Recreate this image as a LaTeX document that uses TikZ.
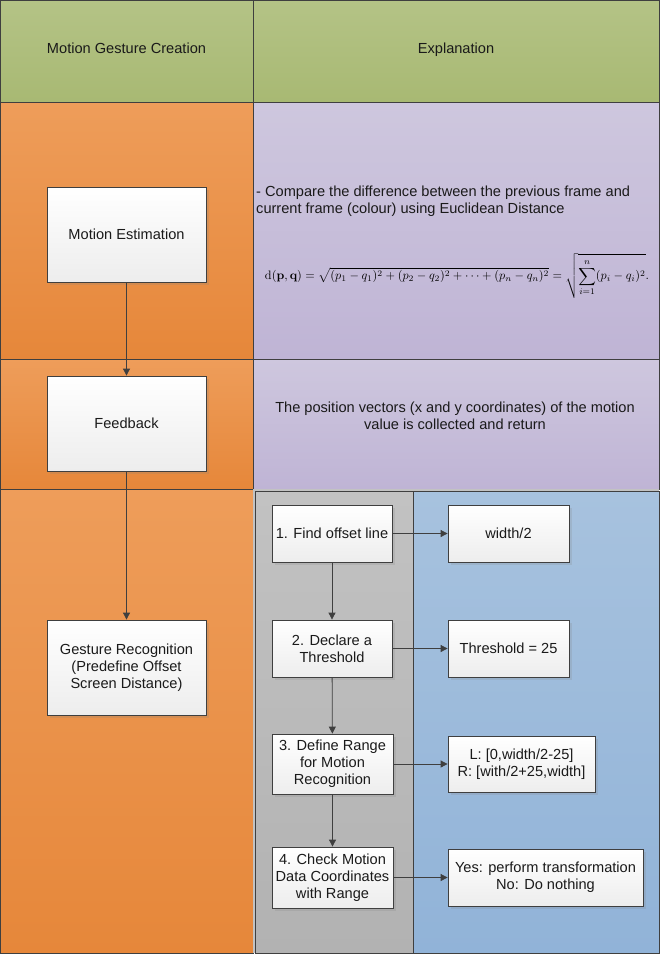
\documentclass[tikz,border=0pt]{standalone}
\usepackage[no-math]{fontspec}
\usepackage{graphicx}
\setmainfont{Liberation Sans}
\usetikzlibrary{arrows.meta,shadows}
\definecolor{lineC}{HTML}{3F3F3F}
\definecolor{gTop}{HTML}{B4C386}
\definecolor{gBot}{HTML}{A8B973}
\definecolor{oTop}{HTML}{EE9D5A}
\definecolor{oBot}{HTML}{E6873A}
\definecolor{pTop}{HTML}{CEC7DE}
\definecolor{pBot}{HTML}{BFB4D5}
\definecolor{grTop}{HTML}{C2C2C2}
\definecolor{grBot}{HTML}{B2B2B2}
\definecolor{bTop}{HTML}{A7C2DE}
\definecolor{bBot}{HTML}{91B3D8}
\definecolor{boxBot}{HTML}{EDEDED}
\definecolor{txt}{HTML}{1A1A1A}
\tikzset{
  cell/.style={draw=lineC, line width=0.8pt},
  proc/.style={draw=lineC, line width=0.8pt, top color=white, bottom color=boxBot,
    align=center, text=txt, font=\fontsize{14.6}{17}\selectfont, inner sep=2pt,
    drop shadow={opacity=0.2, shadow xshift=2.5pt, shadow yshift=-2.5pt}},
  conn/.style={draw=lineC, line width=0.8pt, -{Triangle[width=7pt,length=7pt]}},
  lbl/.style={text=txt, font=\fontsize{14.6}{17}\selectfont, inner sep=0pt}
}
\begin{document}
\begin{tikzpicture}[x=1pt,y=-1pt]
\useasboundingbox (0,0) rectangle (661,956);
% header
\draw[cell, top color=gTop, bottom color=gBot] (0.5,0.5) rectangle (253,102);
\draw[cell, top color=gTop, bottom color=gBot] (253,0.5) rectangle (659,102);
% left column
\draw[cell, top color=oTop, bottom color=oBot] (0.5,102) rectangle (253,359);
\draw[cell, top color=oTop, bottom color=oBot] (0.5,359) rectangle (253,489);
\draw[cell, top color=oTop, bottom color=oBot] (0.5,489) rectangle (253,953);
% right column
\draw[cell, top color=pTop, bottom color=pBot] (253,102) rectangle (659,359);
\draw[cell, top color=pTop, bottom color=pBot] (253,359) rectangle (659,489);
\fill[grTop] (253,489) rectangle (659,953);
\draw[cell, top color=grTop, bottom color=grBot] (255,491) rectangle (413,953);
\draw[cell, top color=bTop, bottom color=bBot] (413,491) rectangle (659,953);
% texts
\node[lbl, text height=10.5pt, text depth=3pt] (h1) at (126.5,50) {Motion Gesture Creation};
\node[lbl, text height=10.5pt, text depth=3pt] (h2) at (456,50) {Explanation};
\node[lbl, anchor=north west, align=left] (t1) at (256,186)
  {- Compare the difference between the previous frame and\\current frame (colour) using Euclidean Distance};
\node[inner sep=0pt] (eq) at (457,276) {\resizebox{384pt}{!}{$\displaystyle\mathrm{d}(\mathbf{p},\mathbf{q}) = \sqrt{(p_1-q_1)^2 + (p_2-q_2)^2+\cdots+(p_n-q_n)^2} = \sqrt{\sum_{i=1}^n (p_i-q_i)^2}.$}};
\node[lbl, align=center] (t2) at (455,415.5)
  {The position vectors (x and y coordinates) of the motion\\value is collected and return};
% boxes
\node[proc, minimum width=159pt, minimum height=95pt] (me) at (126.5,234.5) {Motion Estimation};
\node[proc, minimum width=159pt, minimum height=95pt] (fb) at (126.5,423.5) {Feedback};
\node[proc, minimum width=159pt, minimum height=95pt] (gr) at (126.5,667.5) {Gesture Recognition\\(Predefine Offset\\Screen Distance)};
\node[proc, minimum width=120pt, minimum height=57pt] (s1) at (332,533.5) {1. Find offset line};
\node[proc, minimum width=121pt, minimum height=57pt] (w2) at (508.5,533.5) {width/2};
\node[proc, minimum width=120pt, minimum height=57pt] (s2) at (332,648.5) {2. Declare a\\Threshold};
\node[proc, minimum width=121pt, minimum height=57pt] (th) at (508.5,648.5) {Threshold = 25};
\node[proc, minimum width=121pt, minimum height=60pt] (s3) at (332.5,764) {3. Define Range\\for Motion\\Recognition};
\node[proc, minimum width=147pt, minimum height=56pt] (rg) at (521.5,764) {L: [0,width/2-25]\\R: [with/2+25,width]};
\node[proc, minimum width=121pt, minimum height=61pt] (s4) at (332.5,877.5) {4. Check Motion\\Data Coordinates\\with Range};
\node[proc, minimum width=195pt, minimum height=57pt] (yn) at (545.5,877.5) {Yes: perform transformation\\No: Do nothing};
% connectors
\draw[conn] (me) -- (fb);
\draw[conn] (fb) -- (gr);
\draw[conn] (s1) -- (s2);
\draw[conn] (s2) -- (s3);
\draw[conn] (s3) -- (s4);
\draw[conn] (s1) -- (w2);
\draw[conn] (s2) -- (th);
\draw[conn] (s3) -- (rg);
\draw[conn] (s4) -- (yn);
\end{tikzpicture}
\end{document}
